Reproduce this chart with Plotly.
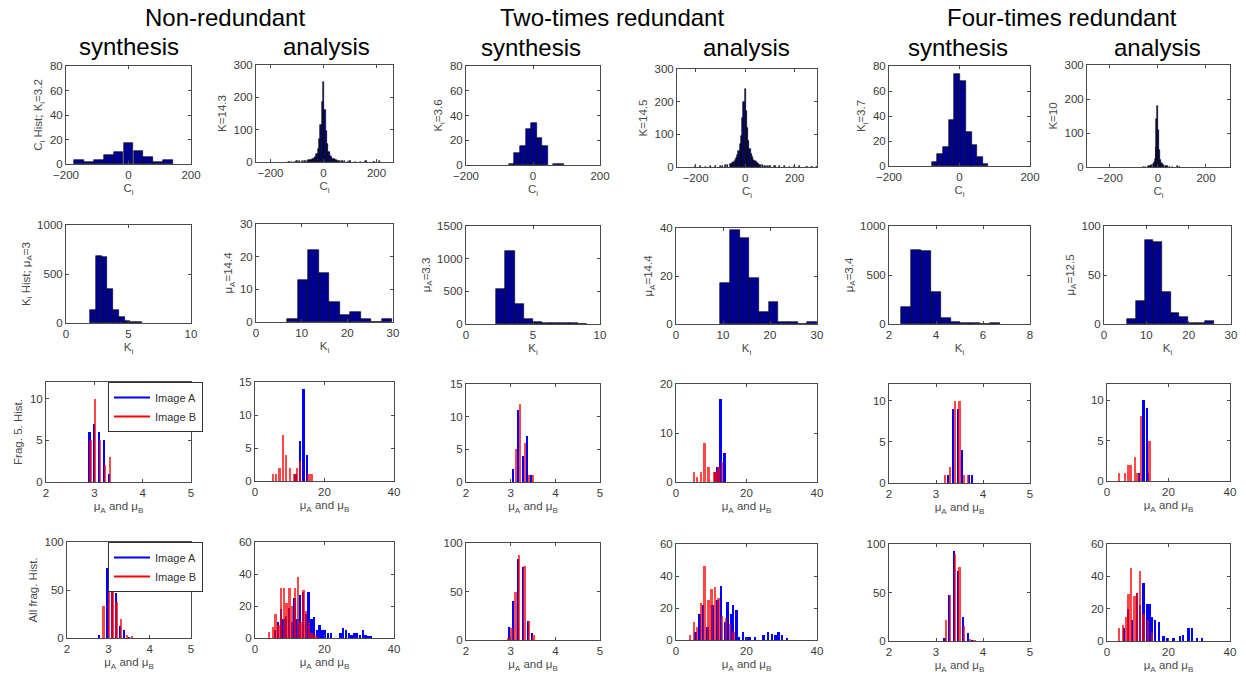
import plotly.graph_objects as go

W, H = 1246, 688

# ---------------- data ----------------
# Row 1: C_i histograms
nr_syn_ci_x = [-158, -126, -95, -63, -32, 0, 32, 63, 95, 127]
nr_syn_ci_y = [3, 2, 3, 7, 10, 17, 11, 6, 2, 3]
nr_ana_ci_x = [-130, -120, -110, -100, -90, -80, -70, -60, -55, -50, -45, -40, -35, -30, -25, -20, -15, -10, -5, 0,
               5, 10, 15, 20, 25, 30, 35, 40, 45, 50, 55, 60, 70, 80, 90, 100, 120, 140, 160, 190, 210]
nr_ana_ci_y = [1, 1, 1, 2, 2, 3, 3, 4, 5, 6, 7, 9, 12, 16, 24, 40, 70, 115, 185, 248,
               160, 95, 55, 32, 20, 14, 10, 8, 6, 5, 4, 3, 2, 2, 1, 2, 1, 1, 2, 1, 3]
tr_syn_ci_x = [-63, -47, -30.5, -14, 2.5, 19, 35.5, 68.5, 85]
tr_syn_ci_y = [1, 10, 15, 29, 34, 22, 15, 1, 1]
tr_ana_ci_x = [-200, -180, -160, -140, -120, -100, -90, -80, -70, -60, -55, -50, -45, -40, -35, -30, -25, -20, -15,
               -10, -5, 0, 5, 10, 15, 20, 25, 30, 35, 40, 45, 50, 55, 60, 70, 80, 90, 100, 120, 140, 160, 180, 200,
               220, 250, 270, 290]
tr_ana_ci_y = [2, 2, 1, 2, 2, 3, 4, 5, 6, 8, 10, 12, 15, 20, 28, 38, 50, 70, 95,
               150, 200, 240, 170, 120, 80, 55, 40, 30, 22, 18, 14, 11, 9, 7, 5, 4, 3, 3, 2, 3, 2, 1, 2,
               2, 1, 1, 1]
fr_syn_ci_x = [-71, -55, -39, -23, -6.6, 9.6, 26, 42, 58, 74]
fr_syn_ci_y = [3, 10, 15, 37, 74, 68, 27, 17, 7, 2]
fr_ana_ci_x = [-60, -50, -40, -35, -30, -25, -20, -16, -12, -8, -4, 0, 4, 8, 12, 16, 20, 25, 30, 35, 40, 50, 60, 80, 90]
fr_ana_ci_y = [1, 1, 2, 3, 4, 6, 9, 14, 25, 60, 140, 180, 110, 50, 22, 12, 8, 5, 4, 3, 2, 1, 1, 2, 1]

# Row 2: K_i histograms
nr_syn_k_x = [2.15, 2.61, 3.07, 3.53, 3.99, 4.45, 4.91, 5.37, 5.83]
nr_syn_k_y = [130, 680, 670, 350, 130, 60, 20, 10, 8]
nr_ana_k_x = [8.0, 10.3, 12.6, 14.9, 17.2, 19.5, 21.8, 24.1, 26.4, 28.7]
nr_ana_k_y = [1, 13, 22, 15, 6, 2, 3, 1, 0, 1]
tr_syn_k_x = [2.6, 3.28, 3.96, 4.64, 5.32, 6.0, 6.68, 7.36, 8.04, 8.72]
tr_syn_k_y = [530, 1110, 310, 70, 25, 10, 8, 8, 8, 6]
tr_ana_k_x = [10.43, 12.49, 14.55, 16.61, 18.67, 20.73, 22.79, 24.85, 26.91, 28.97]
tr_ana_k_y = [17, 39, 36, 19, 5, 9, 1, 1, 0, 1]
fr_syn_k_x = [2.73, 3.15, 3.57, 3.99, 4.41, 4.83, 5.25, 5.67, 6.09, 6.51]
fr_syn_k_y = [170, 760, 740, 330, 60, 20, 10, 8, 3, 8]
fr_ana_k_x = [6.5, 8.55, 10.6, 12.65, 14.7, 16.75, 18.8, 20.85, 22.9, 24.95]
fr_ana_k_y = [5, 23, 86, 84, 33, 11, 7, 1, 1, 3]

# Row 3: fragment 5 histograms (Image A / Image B)
f5_nr_syn_a_x = [2.9, 3.0, 3.1, 3.2, 3.3]
f5_nr_syn_a_y = [6, 7, 6, 5, 1]
f5_nr_syn_b_x = [2.92, 3.02, 3.12, 3.22, 3.32]
f5_nr_syn_b_y = [5, 10, 5, 2, 3]
f5_nr_ana_a_x = [11.6, 12.9, 13.9, 15.0]
f5_nr_ana_a_y = [1, 6, 14, 4]
f5_nr_ana_b_x = [5.1, 6.0, 7.1, 8.0, 9.0, 10.0, 11.4, 12.1, 13.0, 15.4, 16.2]
f5_nr_ana_b_y = [1, 1, 2, 7, 4, 2, 1, 2, 3, 1, 1]
f5_tr_syn_a_x = [3.06, 3.17, 3.27, 3.37, 3.46]
f5_tr_syn_a_y = [2, 11, 4, 7, 1]
f5_tr_syn_b_x = [3.11, 3.2, 3.31, 3.42, 3.51]
f5_tr_syn_b_y = [5, 12, 6, 1, 1]
f5_tr_ana_a_x = [11.1, 11.8, 12.6, 13.7]
f5_tr_ana_a_y = [2, 3, 17, 6]
f5_tr_ana_b_x = [5.1, 5.9, 7.1, 8.1, 9.2, 10.9, 11.4, 12.1, 13.0]
f5_tr_ana_b_y = [2, 1, 2, 8, 3, 2, 2, 3, 4]
f5_fr_syn_a_x = [3.26, 3.36, 3.47, 3.56, 3.7, 3.77]
f5_fr_syn_a_y = [1, 9, 9, 4, 1, 1]
f5_fr_syn_b_x = [3.2, 3.3, 3.4, 3.5, 3.59, 3.68]
f5_fr_syn_b_y = [1, 2, 10, 10, 1, 1]
f5_fr_ana_a_x = [10.3, 11.9, 13.0, 13.4]
f5_fr_ana_a_y = [1, 10, 9, 1]
f5_fr_ana_b_x = [3.8, 5.9, 7.0, 7.9, 9.0, 9.9, 11.0, 13.8]
f5_fr_ana_b_y = [1, 1, 2, 2, 3, 1, 8, 5]

# Row 4: all fragments histograms (Image A / Image B)
all_nr_syn_a_x = [2.78, 2.98, 3.08, 3.18, 3.28, 3.38, 3.5]
all_nr_syn_a_y = [3, 73, 57, 47, 13, 8, 1]
all_nr_syn_b_x = [2.88, 3.02, 3.1, 3.2, 3.3, 3.45, 3.57]
all_nr_syn_b_y = [33, 57, 57, 38, 20, 3, 2]
all_nr_ana_a_x = [5.8, 6.6, 7.4, 8.2, 9.0, 9.8, 10.6, 11.4, 12.2, 13.0, 13.8, 14.6, 15.4, 16.2, 17.0, 17.8, 18.6,
                  19.4, 20.2, 21.0, 21.8, 24.6, 25.4, 26.2, 27.0, 27.8, 28.6, 29.4, 30.2, 31.0, 31.8, 32.6, 33.4]
all_nr_ana_a_y = [5, 10, 18, 12, 14, 19, 10, 25, 12, 27, 29, 15, 29, 12, 13, 5, 8,
                  5, 5, 3, 3, 3, 6, 5, 3, 2, 3, 3, 2, 5, 2, 1, 1]
all_nr_ana_b_x = [4.0, 5.1, 5.9, 6.7, 7.5, 8.3, 9.1, 9.9, 10.7, 11.5, 12.3, 13.1, 13.9, 14.7, 15.5, 16.3, 17.1, 17.9]
all_nr_ana_b_y = [4, 7, 15, 8, 31, 31, 22, 31, 20, 31, 38, 10, 30, 17, 10, 3, 2, 1]
all_tr_syn_a_x = [2.97, 3.06, 3.17, 3.28, 3.38, 3.47]
all_tr_syn_a_y = [13, 40, 83, 75, 20, 7]
all_tr_syn_b_x = [2.95, 3.02, 3.11, 3.19, 3.31, 3.41, 3.51]
all_tr_syn_b_y = [2, 12, 50, 88, 76, 20, 5]
all_tr_ana_a_x = [5.5, 6.6, 7.6, 8.9, 10.4, 11.8, 12.8, 13.9, 14.6, 15.8, 16.1, 17.1, 17.8, 19.0, 20.0, 20.9,
                  22.4, 24.8, 26.1, 27.2, 28.2, 29.1, 30.1, 31.5]
all_tr_ana_a_y = [5, 16, 22, 8, 22, 25, 34, 11, 24, 16, 22, 19, 2, 5, 2, 2, 2, 3, 5, 4, 3, 5, 3, 1]
all_tr_ana_b_x = [4.0, 5.1, 5.9, 7.1, 8.1, 9.2, 10.1, 11.1, 12.0, 13.0, 14.2, 15.3, 16.3]
all_tr_ana_b_y = [3, 11, 8, 23, 46, 25, 32, 33, 26, 15, 14, 10, 5]
all_fr_syn_a_x = [3.18, 3.27, 3.38, 3.47, 3.57, 3.68, 3.77]
all_fr_syn_a_y = [3, 47, 93, 72, 25, 8, 1]
all_fr_syn_b_x = [3.21, 3.3, 3.4, 3.5, 3.6, 3.72, 3.82]
all_fr_syn_b_y = [22, 47, 90, 76, 15, 2, 1]
all_fr_ana_a_x = [5.5, 6.8, 8.2, 9.7, 10.8, 11.9, 13.0, 13.8, 14.6, 15.7, 16.8, 18.4, 19.5, 21.6, 23.8, 24.7,
                  26.5, 27.6, 29.2, 30.8]
all_fr_ana_a_y = [8, 20, 13, 30, 22, 36, 23, 23, 15, 13, 12, 3, 2, 2, 3, 4, 8, 8, 2, 2]
all_fr_ana_b_x = [3.8, 5.1, 6.3, 7.0, 7.9, 8.9, 9.7, 10.8, 11.9, 13.3, 14.6]
all_fr_ana_b_y = [8, 10, 15, 29, 45, 28, 30, 43, 17, 13, 5]

# Text
col_groups = ["Non-redundant", "Two-times redundant", "Four-times redundant"]
sub_titles = ["synthesis", "analysis"]
row1_ylabels = ["C<sub>i</sub> Hist; K<sub>i</sub>=3.2", "K=14.3", "K<sub>i</sub>=3.6", "K=14.5",
                "K<sub>i</sub>=3.7", "K=10"]
row2_ylabels = ["K<sub>i</sub> Hist; μ<sub>A</sub>=3", "μ<sub>A</sub>=14.4", "μ<sub>A</sub>=3.3",
                "μ<sub>A</sub>=14.4", "μ<sub>A</sub>=3.4", "μ<sub>A</sub>=12.5"]
row3_ylabels = ["Frag. 5. Hist.", "", "", "", "", ""]
row4_ylabels = ["All frag. Hist.", "", "", "", "", ""]
xlabels = ["C<sub>i</sub>", "K<sub>i</sub>", "μ<sub>A</sub> and μ<sub>B</sub>", "μ<sub>A</sub> and μ<sub>B</sub>"]
legend_names = ["Image A", "Image B"]

# ---------------- layout geometry (pixels: left, right, top, bottom) ----------------
boxes = [
    [(66, 191, 66, 164), (256, 393, 65, 162), (466, 600, 66, 165), (677, 817, 69, 167), (889, 1030, 66, 166), (1087, 1230, 65, 167)],
    [(66, 191, 225, 323), (256, 393, 224, 322), (466, 600, 226, 324), (676, 817, 228, 324), (889, 1030, 226, 324), (1104, 1231, 226, 324)],
    [(46, 191, 382, 482), (255, 394, 382, 481), (466, 600, 384, 482), (676, 817, 384, 482), (889, 1030, 384, 483), (1107, 1230, 384, 481)],
    [(67, 191, 542, 638), (255, 394, 542, 638), (466, 600, 543, 640), (676, 817, 544, 640), (889, 1030, 544, 641), (1107, 1230, 544, 641)],
]

NAVY = '#00008F'
BLUE = '#0000FF'
RED = 'rgba(255,0,0,0.72)'
AXC = '#4a4a4a'
FONT = 'Liberation Sans'

# panel specs: kind, data, bar width(s), xrange, xticks, yrange, yticks
P = [
    [("h", (nr_syn_ci_x, nr_syn_ci_y), 31.7, [-200, 200], [-200, 0, 200], [0, 80], [0, 20, 40, 60, 80]),
     ("h", (nr_ana_ci_x, nr_ana_ci_y), 5, [-255, 262], [-200, 0, 200], [0, 300], [0, 100, 200, 300]),
     ("h", (tr_syn_ci_x, tr_syn_ci_y), 16.5, [-200, 200], [-200, 0, 200], [0, 80], [0, 20, 40, 60, 80]),
     ("h", (tr_ana_ci_x, tr_ana_ci_y), 5, [-275, 290], [-200, 0, 200], [0, 300], [0, 100, 200, 300]),
     ("h", (fr_syn_ci_x, fr_syn_ci_y), 16.2, [-200, 200], [-200, 0, 200], [0, 80], [0, 20, 40, 60, 80]),
     ("h", (fr_ana_ci_x, fr_ana_ci_y), 4, [-295, 300], [-200, 0, 200], [0, 300], [0, 100, 200, 300])],
    [("h", (nr_syn_k_x, nr_syn_k_y), 0.46, [0, 10], [0, 5, 10], [0, 1000], [0, 500, 1000]),
     ("h", (nr_ana_k_x, nr_ana_k_y), 2.3, [0, 30], [0, 10, 20, 30], [0, 30], [0, 10, 20, 30]),
     ("h", (tr_syn_k_x, tr_syn_k_y), 0.68, [0, 10], [0, 5, 10], [0, 1500], [0, 500, 1000, 1500]),
     ("h", (tr_ana_k_x, tr_ana_k_y), 2.06, [0, 30], [0, 10, 20, 30], [0, 40], [0, 20, 40]),
     ("h", (fr_syn_k_x, fr_syn_k_y), 0.42, [2, 8], [2, 4, 6, 8], [0, 1000], [0, 500, 1000]),
     ("h", (fr_ana_k_x, fr_ana_k_y), 2.05, [0, 30], [0, 10, 20, 30], [0, 100], [0, 50, 100])],
    [("ab", (f5_nr_syn_a_x, f5_nr_syn_a_y, f5_nr_syn_b_x, f5_nr_syn_b_y), 0.045, [2, 5], [2, 3, 4, 5], [0, 12], [0, 5, 10]),
     ("ab", (f5_nr_ana_a_x, f5_nr_ana_a_y, f5_nr_ana_b_x, f5_nr_ana_b_y), 0.7, [0, 40], [0, 20, 40], [0, 15], [0, 5, 10, 15]),
     ("ab", (f5_tr_syn_a_x, f5_tr_syn_a_y, f5_tr_syn_b_x, f5_tr_syn_b_y), 0.045, [2, 5], [2, 3, 4, 5], [0, 15], [0, 5, 10, 15]),
     ("ab", (f5_tr_ana_a_x, f5_tr_ana_a_y, f5_tr_ana_b_x, f5_tr_ana_b_y), 0.7, [0, 40], [0, 20, 40], [0, 20], [0, 10, 20]),
     ("ab", (f5_fr_syn_a_x, f5_fr_syn_a_y, f5_fr_syn_b_x, f5_fr_syn_b_y), 0.045, [2, 5], [2, 3, 4, 5], [0, 12], [0, 5, 10]),
     ("ab", (f5_fr_ana_a_x, f5_fr_ana_a_y, f5_fr_ana_b_x, f5_fr_ana_b_y), 0.75, [0, 40], [0, 20, 40], [0, 12], [0, 5, 10])],
    [("ab", (all_nr_syn_a_x, all_nr_syn_a_y, all_nr_syn_b_x, all_nr_syn_b_y), 0.055, [2, 5], [2, 3, 4, 5], [0, 100], [0, 50, 100]),
     ("ab", (all_nr_ana_a_x, all_nr_ana_a_y, all_nr_ana_b_x, all_nr_ana_b_y), 0.7, [0, 40], [0, 20, 40], [0, 60], [0, 20, 40, 60]),
     ("ab", (all_tr_syn_a_x, all_tr_syn_a_y, all_tr_syn_b_x, all_tr_syn_b_y), 0.05, [2, 5], [2, 3, 4, 5], [0, 100], [0, 50, 100]),
     ("ab", (all_tr_ana_a_x, all_tr_ana_a_y, all_tr_ana_b_x, all_tr_ana_b_y), 0.7, [0, 40], [0, 20, 40], [0, 60], [0, 20, 40, 60]),
     ("ab", (all_fr_syn_a_x, all_fr_syn_a_y, all_fr_syn_b_x, all_fr_syn_b_y), 0.05, [2, 5], [2, 3, 4, 5], [0, 100], [0, 50, 100]),
     ("ab", (all_fr_ana_a_x, all_fr_ana_a_y, all_fr_ana_b_x, all_fr_ana_b_y), 0.75, [0, 40], [0, 20, 40], [0, 60], [0, 20, 40, 60])],
]
ylabels = [row1_ylabels, row2_ylabels, row3_ylabels, row4_ylabels]

fig = go.Figure()
layout = {}
for r in range(4):
    for c in range(6):
        i = r * 6 + c + 1
        xa = 'x' if i == 1 else f'x{i}'
        ya = 'y' if i == 1 else f'y{i}'
        kind, data, bw, xr, xt, yr, yt = P[r][c]
        if kind == "h":
            fig.add_trace(go.Bar(x=data[0], y=data[1], width=bw, xaxis=xa, yaxis=ya, showlegend=False,
                                 marker=dict(color=NAVY, line=dict(color='black', width=0.6))))
        else:
            fig.add_trace(go.Bar(x=data[0], y=data[1], width=bw, xaxis=xa, yaxis=ya, showlegend=False,
                                 marker=dict(color=BLUE, line=dict(width=0))))
            fig.add_trace(go.Bar(x=data[2], y=data[3], width=bw, xaxis=xa, yaxis=ya, showlegend=False,
                                 marker=dict(color=RED, line=dict(width=0))))
        l, rt, t, b = boxes[r][c]
        axis_common = dict(showline=True, mirror='ticks', linecolor=AXC, linewidth=1, ticks='inside',
                           ticklen=3, tickcolor=AXC, showgrid=False, zeroline=False, automargin=False,
                           tickfont=dict(family=FONT, size=11.5, color='#3a3a3a'), fixedrange=True)
        layout['xaxis' if i == 1 else f'xaxis{i}'] = dict(
            domain=[l / W, rt / W], anchor=ya, range=xr, tickvals=xt,
            title=dict(text=xlabels[r], font=dict(family=FONT, size=11.5, color='#4a4a4a'), standoff=4),
            **axis_common)
        layout['yaxis' if i == 1 else f'yaxis{i}'] = dict(
            domain=[1 - b / H, 1 - t / H], anchor=xa, range=yr, tickvals=yt,
            title=dict(text=ylabels[r][c], font=dict(family=FONT, size=11.5, color='#4a4a4a'), standoff=4),
            **axis_common)

# legend entries (line symbols) for row 3 col 1 and row 4 col 1
for lg, ax_i in (("legend", 13), ("legend2", 19)):
    for name, col in zip(legend_names, [BLUE, '#FF0000']):
        fig.add_trace(go.Scatter(x=[None], y=[None], mode='lines', name=name, legend=lg,
                                 line=dict(color=col, width=2), xaxis=f'x{ax_i}', yaxis=f'y{ax_i}'))

leg_common = dict(xanchor='right', yanchor='top', bgcolor='white', bordercolor='#333', borderwidth=1,
                  font=dict(family=FONT, size=11, color='#333'), tracegroupgap=0, itemwidth=36)
layout['legend'] = dict(x=203 / W, y=1 - 382 / H, **leg_common)
layout['legend2'] = dict(x=203 / W, y=1 - 542 / H, **leg_common)

# header annotations
ann = []
group_pos = [(225, 17), (612, 17), (1062, 17)]
sub_pos = [[(129, 46), (326, 46)], [(531, 47), (746, 47)], [(958, 47), (1157, 47)]]
for g in range(3):
    ann.append(dict(text=col_groups[g], x=group_pos[g][0] / W, y=1 - group_pos[g][1] / H, xref='paper',
                    yref='paper', showarrow=False, xanchor='center', yanchor='middle',
                    font=dict(family=FONT, size=24, color='black')))
    for s in range(2):
        ann.append(dict(text=sub_titles[s], x=sub_pos[g][s][0] / W, y=1 - sub_pos[g][s][1] / H, xref='paper',
                        yref='paper', showarrow=False, xanchor='center', yanchor='middle',
                        font=dict(family=FONT, size=24, color='black')))

fig.update_layout(width=W, height=H, autosize=False, margin=dict(l=0, r=0, t=0, b=0, autoexpand=False),
                  paper_bgcolor='white', plot_bgcolor='white', barmode='overlay', bargap=0,
                  annotations=ann, **layout)

fig.write_html("out.html", config={'displayModeBar': False},
               post_script="document.body.style.margin='0px';document.body.style.padding='0px';"
                           "document.documentElement.style.overflow='hidden';")
